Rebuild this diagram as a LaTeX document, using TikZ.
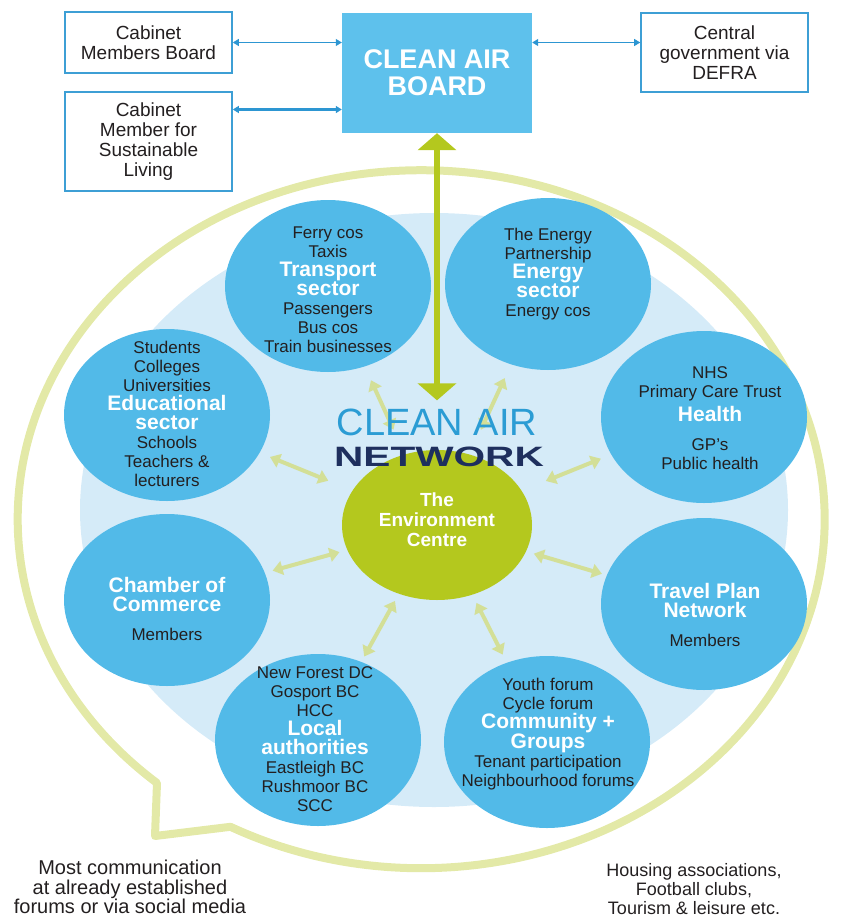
\documentclass[tikz,border=0pt]{standalone}
\usepackage{fontspec}
\setmainfont{Liberation Sans}
\usepackage{graphicx}
\usetikzlibrary{shapes.geometric,arrows.meta}

\definecolor{boardblue}{HTML}{5EC1EC}
\definecolor{grpblue}{HTML}{52BAE8}
\definecolor{discblue}{HTML}{D5EBF8}
\definecolor{boxline}{HTML}{3D9FD5}
\definecolor{linkblue}{HTML}{2D96D2}
\definecolor{centregreen}{HTML}{B4C81E}
\definecolor{palegreen}{HTML}{D3DF97}
\definecolor{bubblegreen}{HTML}{E3E9A7}
\definecolor{titleblue}{HTML}{2B9CD4}
\definecolor{navy}{HTML}{1E2F5E}
\definecolor{txt}{HTML}{231F20}

\tikzset{
    box/.style={draw=boxline, line width=1.6pt, fill=white, minimum width=167pt,
        inner sep=0pt, align=center, text=txt, font=\fontsize{19}{20}\selectfont},
    link/.style={draw=linkblue, line width=1.2pt,
        {Triangle[width=7pt,length=6pt]}-{Triangle[width=7pt,length=6pt]}},
    groupdisc/.style={ellipse, fill=grpblue, minimum width=206pt, minimum height=172pt, inner sep=0pt},
    grouptext/.style={align=center, text=txt, font=\fontsize{17}{19}\selectfont},
    spoke/.style={draw=palegreen, line width=4pt, shorten <=8pt, shorten >=8pt,
        {Triangle[width=14pt,length=10pt]}-{Triangle[width=14pt,length=10pt]}},
    bigarrow/.style={draw=centregreen, line width=6pt,
        {Triangle[width=38pt,length=17pt]}-{Triangle[width=38pt,length=17pt]}},
    note/.style={align=center, text=txt, font=\fontsize{20}{19.5}\selectfont},
}
\newcommand{\hd}[1]{{\fontsize{21}{22}\selectfont\bfseries\color{white}#1}}

\begin{document}
\begin{tikzpicture}[x=1pt, y=-1pt]
\useasboundingbox (0,0) rectangle (846,918);

% speech bubble round the network
\draw[bubblegreen, line width=8pt, line join=round]
    (157,783) arc[start angle=130.9, end angle=478.2, x radius=403.5, y radius=349]
    -- (155,836) -- cycle;
\fill[discblue] (434,510) ellipse[x radius=354, y radius=297];

% board and the boxes round it
\node[fill=boardblue, minimum width=190pt, minimum height=120pt, align=center,
    text=white, font=\fontsize{27}{27}\selectfont\bfseries] (board) at (437,73) {CLEAN AIR\\BOARD};
\node[box, minimum height=61pt] (cmb) at (148.5,42.5) {Cabinet\\Members Board};
\node[box, minimum height=99pt] (cms) at (148.5,141.5) {Cabinet\\Member for\\Sustainable\\Living};
\node[box, minimum height=79pt] (dfr) at (724.5,52.5) {Central\\government via\\DEFRA};
\coordinate (cmsarrow) at ([yshift=32pt]cms.east);

\draw[link] (cmb.east) -- (cmb.east -| board.west);
\draw[link, line width=2.6pt] (cmsarrow) -- (cmsarrow -| board.west);
\draw[link] (board.east |- cmb.east) -- (dfr.west |- cmb.east);

% sector groups
\node[groupdisc] (transport) at (328,286) {};
\node[groupdisc] (energy) at (548,284) {};
\node[groupdisc] (education) at (167,415) {};
\node[groupdisc] (health) at (704,417) {};
\node[groupdisc] (chamber) at (167,600) {};
\node[groupdisc] (travel) at (704,604) {};
\node[groupdisc] (local) at (318,740) {};
\node[groupdisc] (community) at (547,742) {};
\node[ellipse, fill=centregreen, minimum width=190pt, minimum height=150pt, inner sep=0pt] (env) at (437,525) {};

% spokes out of the centre
\draw[spoke, shorten <=27pt, shorten >=15pt] (env) -- (transport);
\draw[spoke, shorten <=27pt, shorten >=15pt] (env) -- (energy);
\draw[spoke, shorten <=26pt, shorten >=11pt] (env) -- (education);
\draw[spoke, shorten <=26pt, shorten >=11pt] (env) -- (health);
\draw[spoke] (env) -- (chamber);
\draw[spoke, shorten >=5pt] (env) -- (travel);
\draw[spoke, shorten >=6pt] (env) -- (local);
\draw[spoke, shorten <=9pt, shorten >=9pt] (env) -- (community);

\node[inner sep=0pt, text=titleblue, font=\fontsize{38}{38}\selectfont] (title) at (437,422) {CLEAN AIR};
\node[inner sep=0pt, text=navy, font=\fontsize{28}{28}\selectfont\bfseries] (network) at (439,457)
    {\scalebox{1.45}[1]{NETWORK}};
\draw[bigarrow, shorten >=8pt] (board.south) -- (title.north);

% texts of the groups
\node[grouptext] (transportTxt) at (328,290)
    {Ferry cos\\Taxis\\\hd{Transport}\\\hd{sector}\\Passengers\\Bus cos\\Train businesses};
\node[grouptext] (energyTxt) at (548,274)
    {The Energy\\Partnership\\\hd{Energy}\\\hd{sector}\\Energy cos};
\node[grouptext] (educationTxt) at (167,414)
    {Students\\Colleges\\Universities\\\hd{Educational}\\\hd{sector}\\Schools\\Teachers \&\\lecturers};
\node[grouptext] (healthTxt) at (710,418)
    {NHS\\Primary Care Trust\\[5pt]\hd{Health}\\[10pt]GP's\\Public health};
\node[grouptext] (chamberTxt) at (167,609)
    {\hd{Chamber of}\\\hd{Commerce}\\[10pt]Members};
\node[grouptext] (travelTxt) at (705,615)
    {\hd{Travel Plan}\\\hd{Network}\\[10pt]Members};
\node[grouptext] (localTxt) at (315,739)
    {New Forest DC\\Gosport BC\\HCC\\\hd{Local}\\\hd{authorities}\\Eastleigh BC\\Rushmoor BC\\SCC};
\node[grouptext] (communityTxt) at (548,734)
    {Youth forum\\Cycle forum\\\hd{Community +}\\\hd{Groups}\\Tenant participation\\Neighbourhood forums};
\node[align=center, text=white, font=\fontsize{19}{20}\selectfont\bfseries] (envTxt) at (437,520)
    {The\\Environment\\Centre};

% notes under the bubble
\node[note] (forums) at (130,887) {Most communication\\at already established\\forums or via social media};
\node[note, font=\fontsize{18}{19}\selectfont] (others) at (694,889) {Housing associations,\\Football clubs,\\Tourism \& leisure etc.};
\end{tikzpicture}
\end{document}
